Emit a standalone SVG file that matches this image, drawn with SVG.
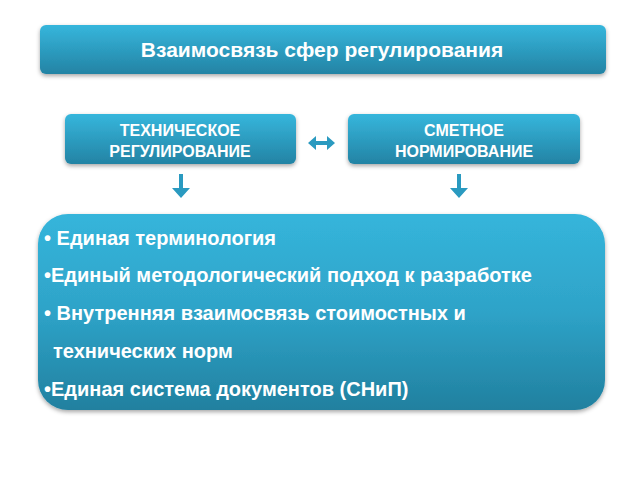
<svg xmlns="http://www.w3.org/2000/svg" width="640" height="480" viewBox="0 0 640 480">
<defs>
<linearGradient id="g" x1="0" y1="0" x2="0" y2="1">
<stop offset="0" stop-color="#36b6dc"/>
<stop offset="1" stop-color="#2383a4"/>
</linearGradient>
<linearGradient id="gb" x1="0" y1="0" x2="0" y2="1">
<stop offset="0" stop-color="#35b5db"/>
<stop offset="0.5" stop-color="#2ea3c8"/>
<stop offset="1" stop-color="#21809f"/>
</linearGradient>
<filter id="sh" x="-10%" y="-20%" width="120%" height="150%">
<feDropShadow dx="0" dy="2" stdDeviation="2" flood-color="#000" flood-opacity="0.35"/>
</filter>
</defs>
<style>
.t{font-family:"Liberation Sans",Arial,sans-serif;font-weight:bold;fill:#fff}
.a{fill:#2a9ac0}
</style>
<rect width="640" height="480" fill="#fff"/>
<g id="title">
<rect x="40" y="25" width="566" height="49" rx="6" fill="url(#g)" filter="url(#sh)"/>
<text class="t" x="322" y="57" font-size="21" text-anchor="middle">Взаимосвязь сфер регулирования</text>
</g>
<g id="tech">
<rect x="65" y="114" width="231" height="50" rx="6" fill="url(#g)" filter="url(#sh)"/>
<text class="t" x="180" y="136" font-size="16" text-anchor="middle">ТЕХНИЧЕСКОЕ</text>
<text class="t" x="180" y="157" font-size="16" text-anchor="middle">РЕГУЛИРОВАНИЕ</text>
</g>
<g id="smet">
<rect x="348" y="114" width="232" height="50" rx="6" fill="url(#g)" filter="url(#sh)"/>
<text class="t" x="464" y="136" font-size="16" text-anchor="middle">СМЕТНОЕ</text>
<text class="t" x="464" y="157" font-size="16" text-anchor="middle">НОРМИРОВАНИЕ</text>
</g>
<g id="connectors">
<path class="a" d="M308 143 L316 136 L316 141 L327 141 L327 136 L335 143 L327 150 L327 145 L316 145 L316 150 Z"/>
<path class="a" d="M179 174 L183 174 L183 188 L190 188 L181 198 L172 188 L179 188 Z"/>
<path class="a" d="M457 174 L461 174 L461 188 L468 188 L459 198 L450 188 L457 188 Z"/>
</g>
<g id="list">
<rect x="38" y="214" width="567" height="196" rx="30" fill="url(#gb)" filter="url(#sh)"/>
<text class="t" font-size="20">
<tspan x="44" y="245">• Единая терминология</tspan>
<tspan x="44" y="282">•Единый методологический подход к разработке</tspan>
<tspan x="44" y="320">• Внутренняя взаимосвязь стоимостных и</tspan>
<tspan x="53" y="358">технических норм</tspan>
<tspan x="44" y="396">•Единая система документов (СНиП)</tspan>
</text>
</g>
</svg>
